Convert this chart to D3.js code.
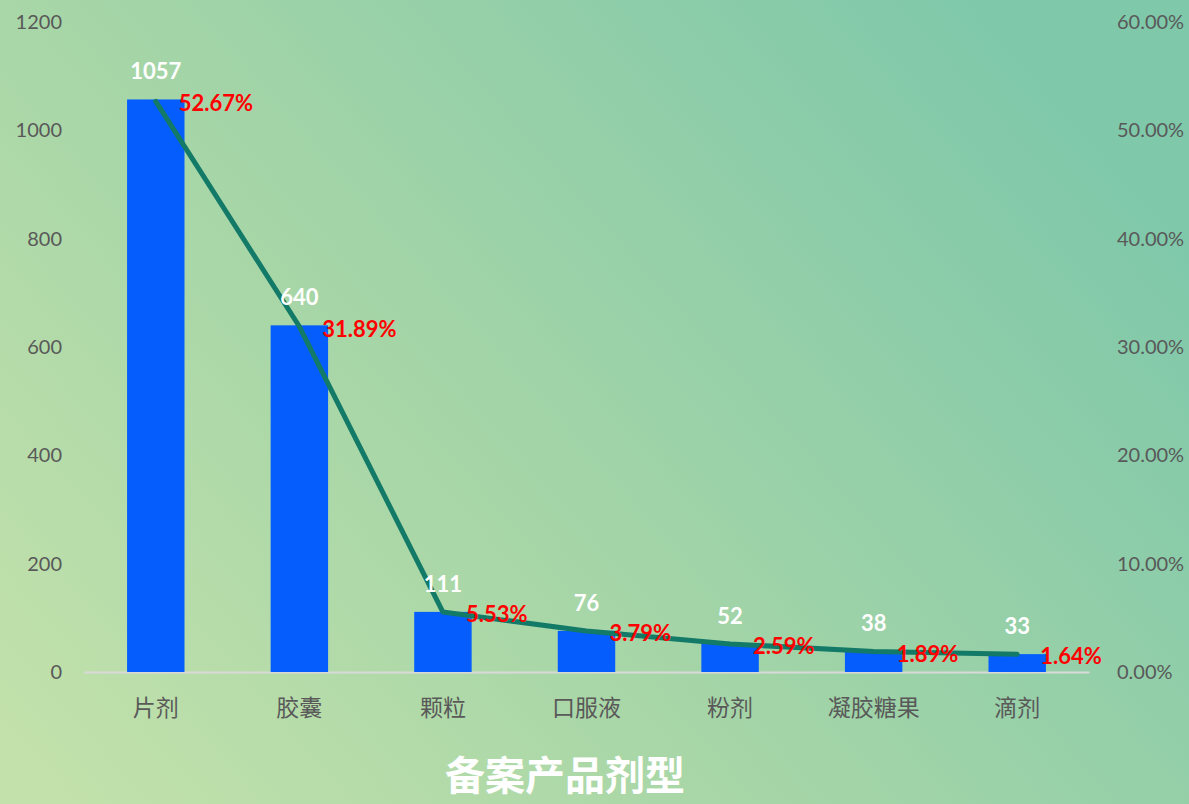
<!DOCTYPE html>
<html>
<head>
<meta charset="utf-8">
<script src="https://cdn.jsdelivr.net/npm/d3@7"></script>
<style>
  body { margin: 0; overflow: hidden; }
  svg { display: block; }
</style>
</head>
<body>
<div id="chart"></div>
<script>
// chart data
var categories = ["片剂", "胶囊", "颗粒", "口服液", "粉剂", "凝胶糖果", "滴剂"];
var counts = [1057, 640, 111, 76, 52, 38, 33];
var shares = [52.67, 31.89, 5.53, 3.79, 2.59, 1.89, 1.64];
var leftTicks = [0, 200, 400, 600, 800, 1000, 1200];
var rightTicks = [0, 10, 20, 30, 40, 50, 60];
var chartTitle = "备案产品剂型";

var W = 1189, H = 804;
var margin = { top: 22, right: 100, bottom: 132, left: 84 },
  width = W - margin.left - margin.right,
  height = H - margin.top - margin.bottom;

var font = "Lato, 'Noto Sans CJK SC', sans-serif";

var svg = d3.select("#chart")
  .append("svg")
  .attr("width", W)
  .attr("height", H);

// background gradient
var defs = svg.append("defs");
var grad = defs.append("linearGradient")
  .attr("id", "bg")
  .attr("x1", "0%").attr("y1", "90%")
  .attr("x2", "100%").attr("y2", "30%");
grad.append("stop").attr("offset", "0%").attr("stop-color", "#c2e1ab");
grad.append("stop").attr("offset", "45%").attr("stop-color", "#a5d5a7");
grad.append("stop").attr("offset", "100%").attr("stop-color", "#7fc8aa");
svg.append("rect")
  .attr("width", W).attr("height", H)
  .attr("fill", "url(#bg)");

var chart = svg.append("g")
  .attr("transform", "translate(" + margin.left + "," + margin.top + ")");

// scales
var x = d3.scaleBand()
  .domain(categories)
  .range([0, width])
  .paddingInner(0.6)
  .paddingOuter(0.3);

var y = d3.scaleLinear().domain([0, 1200]).range([height, 0]);
var y2 = d3.scaleLinear().domain([0, 60]).range([height, 0]);

// left axis
var leftAxis = chart.append("g")
  .attr("transform", "translate(-22,0)")
  .call(d3.axisLeft(y).tickValues(leftTicks).tickSize(0).tickPadding(0)
    .tickFormat(d3.format("d")));
leftAxis.select(".domain").remove();
leftAxis.selectAll("text")
  .attr("fill", "#595959")
  .style("font-family", font)
  .style("font-size", "20px");

// right axis
var rightAxis = chart.append("g")
  .attr("transform", "translate(" + (width + 28) + ",0)")
  .call(d3.axisRight(y2).tickValues(rightTicks).tickSize(0).tickPadding(0)
    .tickFormat(function (d) { return d.toFixed(2) + "%"; }));
rightAxis.select(".domain").remove();
rightAxis.selectAll("text")
  .attr("fill", "#595959")
  .style("font-family", font)
  .style("font-size", "20px");

// bottom axis
var bottomAxis = chart.append("g")
  .attr("transform", "translate(0," + height + ")")
  .call(d3.axisBottom(x).tickSize(0).tickPadding(28));
bottomAxis.select(".domain")
  .attr("stroke", "#d9d9d9")
  .attr("stroke-width", 2);
bottomAxis.selectAll("text")
  .attr("fill", "#595959")
  .style("font-family", font)
  .style("font-size", "23px");

// bars
chart.selectAll(".bar")
  .data(categories)
  .enter().append("rect")
  .attr("class", "bar")
  .attr("x", function (d) { return x(d); })
  .attr("width", x.bandwidth())
  .attr("y", function (d, i) { return y(counts[i]); })
  .attr("height", function (d, i) { return height - y(counts[i]); })
  .attr("fill", "#055dfd");

// line
chart.append("path")
  .datum(categories)
  .attr("fill", "none")
  .attr("stroke", "#137a68")
  .attr("stroke-width", 5)
  .attr("stroke-linecap", "round")
  .attr("stroke-linejoin", "round")
  .attr("d", d3.line()
    .x(function (d) { return x(d) + x.bandwidth() / 2; })
    .y(function (d, i) { return y2(shares[i]); })
  );

// count labels
chart.selectAll(".cnt")
  .data(categories)
  .enter().append("text")
  .attr("x", function (d) { return x(d) + x.bandwidth() / 2; })
  .attr("y", function (d, i) { return y(counts[i]) - 20; })
  .attr("text-anchor", "middle")
  .attr("fill", "#ffffff")
  .style("font-family", font)
  .style("font-size", "22px")
  .style("font-weight", "bold")
  .text(function (d, i) { return counts[i]; });

// percentage labels
chart.selectAll(".pct")
  .data(categories)
  .enter().append("text")
  .attr("x", function (d) { return x(d) + x.bandwidth() / 2 + 23; })
  .attr("y", function (d, i) { return y2(shares[i]) + 10; })
  .attr("text-anchor", "start")
  .attr("fill", "#ff0000")
  .style("font-family", font)
  .style("font-size", "22px")
  .style("font-weight", "bold")
  .text(function (d, i) { return shares[i].toFixed(2) + "%"; });

// title
svg.append("text")
  .attr("x", 565)
  .attr("y", 790)
  .attr("text-anchor", "middle")
  .attr("fill", "#ffffff")
  .style("font-family", "'Noto Sans CJK SC', sans-serif")
  .style("font-size", "40px")
  .style("font-weight", "bold")
  .text(chartTitle);
</script>
</body>
</html>
